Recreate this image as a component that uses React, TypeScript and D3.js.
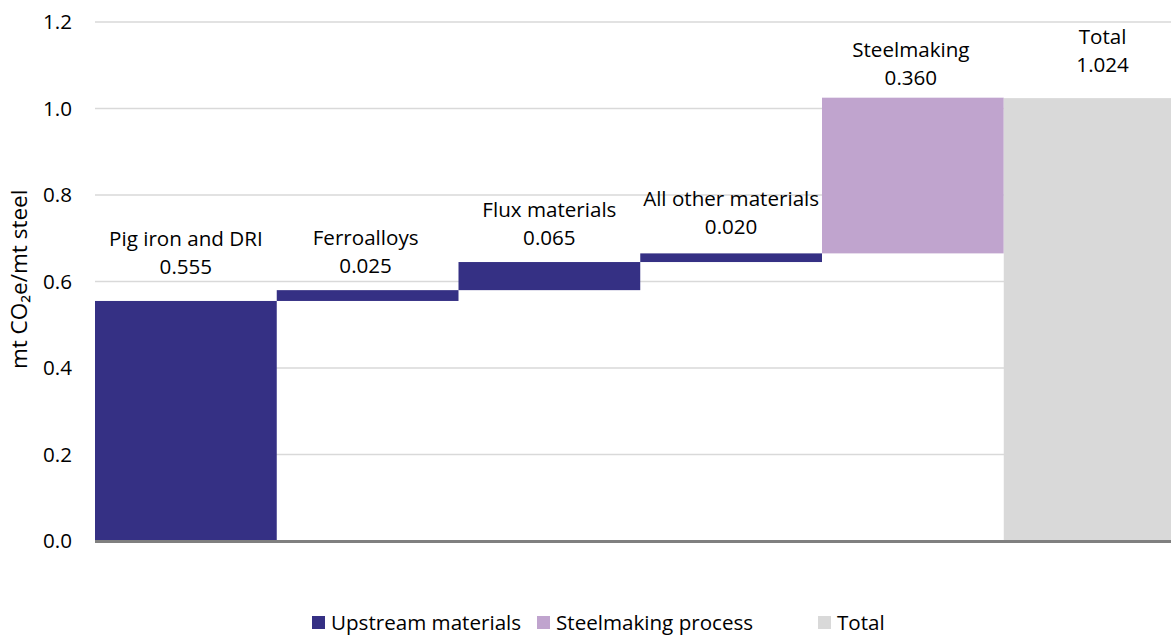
import React from "react";
import * as d3 from "d3";

const categories = ["Pig iron and DRI", "Ferroalloys", "Flux materials", "All other materials", "Steelmaking", "Total"];
const values = [0.555, 0.025, 0.065, 0.02, 0.36, 1.024];
const valueLabels = ["0.555", "0.025", "0.065", "0.020", "0.360", "1.024"];
const groups = ["Upstream materials", "Upstream materials", "Upstream materials", "Upstream materials", "Steelmaking process", "Total"];
const legendItems = ["Upstream materials", "Steelmaking process", "Total"];
const yTicks = [0, 0.2, 0.4, 0.6, 0.8, 1.0, 1.2];

// layout (px) for manually placed labels in the original
const labelLift = [27, 17.5, 17, 19, 12.5, 26];
const labelDx = [0, -2, 0, 0, -2, 8];
const legendX = [312, 537, 818];

const W = 1171;
const H = 636;
const margin = { left: 95, top: 22, bottom: 95 };

export default function App() {
  const colors = d3.scaleOrdinal<string, string>().domain(legendItems).range(["#353084", "#C0A4CE", "#D9D9D9"]);
  const x = d3.scaleBand<string>().domain(categories).range([margin.left, margin.left + 6 * 181.75]).padding(0);
  const y = d3.scaleLinear().domain([0, 1.2]).range([H - margin.bottom, margin.top]);

  // waterfall bases
  let running = 0;
  const bars = categories.map((c, i) => {
    let base: number, top: number;
    if (groups[i] === "Total") {
      base = 0;
      top = values[i];
    } else {
      base = running;
      top = running + values[i];
      running = top;
    }
    return { c, i, base, top };
  });

  const font = "'Open Sans', sans-serif";
  const fs = 20.6;

  return (
    <div style={{ position: "absolute", left: 0, top: 0 }}>
      <svg width={W} height={H} style={{ display: "block", background: "#fff" }} fontFamily={font}>
        {yTicks.map((t) => (
          <g key={t}>
            {t > 0 && (
              <line x1={margin.left} x2={W} y1={y(t)} y2={y(t)} stroke="#D9D9D9" strokeWidth={1.5} />
            )}
            <text x={72} y={y(t)} dy="0.36em" textAnchor="end" fontSize={fs} fill="#000">
              {t.toFixed(1)}
            </text>
          </g>
        ))}
        {bars.map((b) => (
          <rect
            key={b.c}
            x={x(b.c)!}
            width={x.bandwidth()}
            y={y(b.top)}
            height={y(b.base) - y(b.top)}
            fill={colors(groups[b.i])}
          />
        ))}
        <line x1={margin.left} x2={W} y1={y(0) + 0.5} y2={y(0) + 0.5} stroke="#808080" strokeWidth={3} />
        {bars.map((b) => {
          const cx = x(b.c)! + x.bandwidth() / 2 + labelDx[b.i];
          const by = y(b.top) - labelLift[b.i];
          return (
            <text key={"l" + b.c} x={cx} textAnchor="middle" fontSize={fs} fill="#000">
              <tspan x={cx} y={by - 28}>{b.c}</tspan>
              <tspan x={cx} y={by}>{valueLabels[b.i]}</tspan>
            </text>
          );
        })}
        <text
          transform={`translate(27, ${y(0.605)}) rotate(-90)`}
          textAnchor="middle"
          fontSize={22.5}
          fill="#000"
        >
          mt CO₂e/mt steel
        </text>
        {legendItems.map((l, i) => (
          <g key={l} transform={`translate(${legendX[i]}, 616)`}>
            <rect x={0} y={0} width={13} height={13} fill={colors(l)} />
            <text x={19} y={13.5} fontSize={fs} fill="#000">
              {l}
            </text>
          </g>
        ))}
      </svg>
    </div>
  );
}
